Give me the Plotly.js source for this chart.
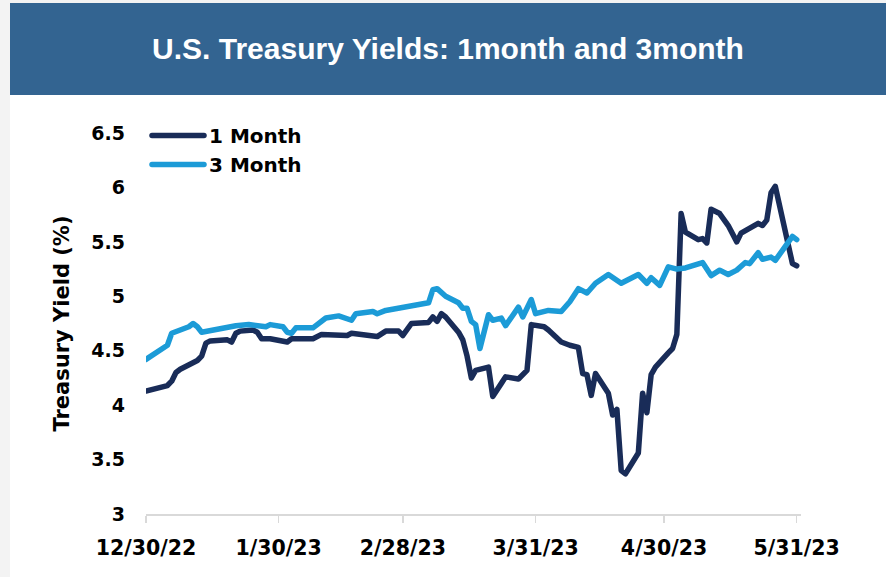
<!DOCTYPE html>
<html>
<head>
<meta charset="utf-8">
<script src="https://cdn.plot.ly/plotly-3.0.1.min.js"></script>
<style>
  html, body { margin: 0; padding: 0; background: #f3f3f3; width: 886px; height: 577px; overflow: hidden; }
  #chart { position: absolute; left: 10px; top: 3px; width: 876px; height: 574px; }
  #chart .scatterlayer path.js-line, #chart .legend path.js-line { stroke-linejoin: round; stroke-linecap: round; }
</style>
</head>
<body>
<div id="chart"></div>
<script>
// ---- Data ----
const oneMonthDates = [
  '2022-12-30','2023-01-04','2023-01-05','2023-01-06','2023-01-07','2023-01-09','2023-01-11','2023-01-12','2023-01-13','2023-01-14',
  '2023-01-18','2023-01-19','2023-01-20','2023-01-21','2023-01-24','2023-01-25','2023-01-26','2023-01-28','2023-02-01','2023-02-02',
  '2023-02-04','2023-02-07','2023-02-09','2023-02-14','2023-02-15','2023-02-16','2023-02-22','2023-02-24','2023-02-27','2023-02-28',
  '2023-03-02','2023-03-06','2023-03-07','2023-03-08','2023-03-09','2023-03-10','2023-03-13','2023-03-14','2023-03-15','2023-03-16',
  '2023-03-17','2023-03-20','2023-03-21','2023-03-23','2023-03-24','2023-03-27','2023-03-29','2023-03-30','2023-04-02','2023-04-03',
  '2023-04-06','2023-04-08','2023-04-10','2023-04-11','2023-04-12','2023-04-13','2023-04-14','2023-04-17','2023-04-18','2023-04-19',
  '2023-04-20','2023-04-21','2023-04-24','2023-04-25','2023-04-26','2023-04-27','2023-04-28','2023-05-01','2023-05-02','2023-05-03',
  '2023-05-04','2023-05-05','2023-05-08','2023-05-09','2023-05-10','2023-05-11','2023-05-13','2023-05-15','2023-05-17','2023-05-18',
  '2023-05-22','2023-05-23','2023-05-24','2023-05-25','2023-05-26','2023-05-30','2023-05-31'
];
const oneMonthYield = [
  4.13,4.18,4.22,4.30,4.33,4.37,4.41,4.45,4.57,4.59,
  4.60,4.58,4.66,4.68,4.69,4.67,4.61,4.61,4.58,4.61,
  4.61,4.61,4.65,4.65,4.64,4.66,4.63,4.68,4.68,4.64,
  4.75,4.76,4.81,4.77,4.84,4.81,4.67,4.60,4.45,4.25,
  4.32,4.35,4.08,4.20,4.26,4.24,4.32,4.74,4.72,4.69,
  4.58,4.55,4.53,4.29,4.28,4.09,4.29,4.11,3.91,3.96,
  3.40,3.37,3.56,4.11,3.93,4.28,4.35,4.48,4.52,4.65,
  5.76,5.59,5.52,5.53,5.49,5.80,5.76,5.65,5.50,5.58,
  5.67,5.65,5.70,5.95,6.01,5.30,5.28
];
const threeMonthDates = [
  '2022-12-30','2023-01-04','2023-01-05','2023-01-09','2023-01-10','2023-01-11','2023-01-12','2023-01-17','2023-01-20','2023-01-23',
  '2023-01-27','2023-01-28','2023-01-31','2023-02-01','2023-02-02','2023-02-03','2023-02-07','2023-02-10','2023-02-13','2023-02-16',
  '2023-02-17','2023-02-21','2023-02-22','2023-02-24','2023-02-27','2023-03-02','2023-03-06','2023-03-07','2023-03-08','2023-03-10',
  '2023-03-13','2023-03-14','2023-03-15','2023-03-16','2023-03-17','2023-03-18','2023-03-19','2023-03-20','2023-03-21','2023-03-23',
  '2023-03-24','2023-03-25','2023-03-27','2023-03-28','2023-03-30','2023-03-31','2023-04-03','2023-04-06','2023-04-08','2023-04-10',
  '2023-04-12','2023-04-14','2023-04-17','2023-04-20','2023-04-24','2023-04-26','2023-04-27','2023-04-29','2023-05-01','2023-05-03',
  '2023-05-05','2023-05-09','2023-05-10','2023-05-11','2023-05-13','2023-05-15','2023-05-17','2023-05-19','2023-05-20','2023-05-22',
  '2023-05-23','2023-05-25','2023-05-26','2023-05-30','2023-05-31'
];
const threeMonthYield = [
  4.42,4.55,4.66,4.72,4.75,4.72,4.67,4.71,4.73,4.74,
  4.72,4.74,4.72,4.67,4.66,4.71,4.71,4.80,4.82,4.78,
  4.84,4.86,4.84,4.87,4.89,4.92,4.94,5.06,5.07,5.00,
  4.94,4.89,4.89,4.77,4.74,4.52,4.66,4.83,4.78,4.80,
  4.73,4.78,4.90,4.81,4.97,4.84,4.87,4.86,4.95,5.07,
  5.03,5.12,5.20,5.12,5.20,5.12,5.17,5.10,5.27,5.25,
  5.26,5.31,5.25,5.19,5.24,5.20,5.24,5.31,5.30,5.40,
  5.34,5.36,5.33,5.55,5.52
];
const seriesNames = ['1 Month', '3 Month'];
const xTickVals = ['2022-12-30','2023-01-30','2023-02-28','2023-03-31','2023-04-30','2023-05-31'];
const xTickText = ['12/30/22','1/30/23','2/28/23','3/31/23','4/30/23','5/31/23'];
const yTickVals = [3, 3.5, 4, 4.5, 5, 5.5, 6, 6.5];
const titleText = 'U.S. Treasury Yields: 1month and 3month';
const yTitleText = 'Treasury Yield (%)';

// ---- Styling ----
const navy = '#192c58';
const sky = '#1c9bd7';
const banner = '#336491';
const axisGray = '#d9d9d9';
const labelFont = { family: 'DejaVu Sans, sans-serif', size: 20, color: '#000000', weight: 'bold' };

const traces = [
  { x: oneMonthDates, y: oneMonthYield, name: seriesNames[0], type: 'scatter', mode: 'lines',
    line: { color: navy, width: 5.5 } },
  { x: threeMonthDates, y: threeMonthYield, name: seriesNames[1], type: 'scatter', mode: 'lines',
    line: { color: sky, width: 5.5 } }
];

// plot area in div px: left 136, right 791 (w 655); top 130, bottom 511 (h 381)
const W = 655, H = 381, L = 136, T = 130;
const px2x = p => (p - L) / W;
const py2y = p => (T + H - p) / H;

const layout = {
  width: 876, height: 574,
  margin: { l: 136, r: 85, t: 130, b: 63 },
  paper_bgcolor: '#ffffff',
  plot_bgcolor: '#ffffff',
  showlegend: true,
  title: {
    text: titleText,
    font: { family: 'Liberation Sans, Arial, sans-serif', size: 30, color: '#ffffff', weight: 'bold' },
    x: 0.5, xref: 'container', xanchor: 'center',
    y: 1 - 45 / 574, yref: 'container', yanchor: 'middle'
  },
  shapes: [
    { type: 'rect', xref: 'paper', yref: 'paper', layer: 'below',
      x0: px2x(0), x1: px2x(876), y0: py2y(92), y1: py2y(0),
      fillcolor: banner, line: { width: 0 } }
  ],
  xaxis: {
    type: 'date',
    range: ['2022-12-30', '2023-06-01'],
    tickvals: xTickVals, ticktext: xTickText,
    showgrid: false, zeroline: false,
    showline: true, linecolor: axisGray, linewidth: 2,
    ticks: 'outside', ticklen: 7, tickwidth: 1.5, tickcolor: axisGray,
    tickfont: Object.assign({}, labelFont, { size: 20.5 }),
    ticklabelstandoff: 7
  },
  yaxis: {
    range: [3, 6.5],
    tickvals: yTickVals,
    showgrid: false, zeroline: false, showline: false,
    ticks: '',
    tickfont: Object.assign({}, labelFont, { size: 19 }),
    ticklabelstandoff: 20,
    title: { text: yTitleText, font: Object.assign({}, labelFont, { size: 21 }), standoff: 15 }
  },
  legend: {
    x: px2x(137), xanchor: 'left',
    y: py2y(113), yanchor: 'top',
    bgcolor: 'rgba(0,0,0,0)',
    font: labelFont,
    itemwidth: 52,
    traceorder: 'normal'
  }
};

Plotly.newPlot('chart', traces, layout, { displayModeBar: false, staticPlot: true });
</script>
</body>
</html>
